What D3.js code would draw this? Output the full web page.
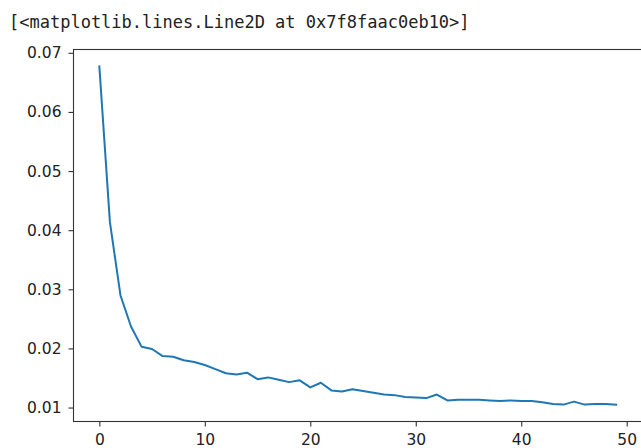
<!DOCTYPE html>
<meta charset="UTF-8">
<html>
<head>
<style>
html, body {
  margin:0;
  padding:0;
  background:white;
}
.out {
  font-family: "DejaVu Sans Mono", monospace;
  font-size:17px;
  fill:#222;
}
</style>
</head>
<body>
<svg width="641" height="448"></svg>
<script src="https://d3js.org/d3.v7.min.js"></script>
<script>
// loss per epoch
var epochs = d3.range(50);
var loss = [
  0.0677, 0.0414, 0.0290, 0.0237, 0.0203, 0.0199, 0.0187, 0.0186, 0.0180, 0.0177,
  0.0172, 0.0165, 0.0158, 0.0156, 0.0159, 0.0148, 0.0151, 0.0147, 0.0143, 0.0146,
  0.0134, 0.0142, 0.0129, 0.0127, 0.0131, 0.0128, 0.0125, 0.0122, 0.0121, 0.0118,
  0.0117, 0.0116, 0.0122, 0.0112, 0.0113, 0.0113, 0.0113, 0.0112, 0.0111, 0.0112,
  0.0111, 0.0111, 0.0109, 0.0106, 0.0105, 0.0110, 0.0105, 0.0106, 0.0106, 0.0105
];
var xTicks = [0, 10, 20, 30, 40, 50];
var yTicks = [0.01, 0.02, 0.03, 0.04, 0.05, 0.06, 0.07];
var outText = "[<matplotlib.lines.Line2D at 0x7f8faac0eb10>]";

function draw() {
  var svg = d3.select("svg");

  // axes box (right spine falls just outside the picture)
  var box = {left: 73.5, right: 642, top: 49.5, bottom: 421.5};

  // matplotlib style 5% margins
  var xSpan = d3.max(epochs) - d3.min(epochs);
  var ySpan = d3.max(loss) - d3.min(loss);
  var x = d3.scaleLinear()
      .domain([d3.min(epochs) - xSpan * 0.05, d3.max(epochs) + xSpan * 0.05])
      .range([box.left, box.right]);
  var y = d3.scaleLinear()
      .domain([d3.min(loss) - ySpan * 0.05, d3.max(loss) + ySpan * 0.05])
      .range([box.bottom, box.top]);

  svg.append("text")
      .attr("class", "out")
      .attr("x", 9)
      .attr("y", 28)
      .text(outText);

  var line = d3.line()
      .x(function(d, i) { return x(epochs[i]); })
      .y(function(d) { return y(d); });

  svg.append("path")
      .datum(loss)
      .attr("fill", "none")
      .attr("stroke", "#1f77b4")
      .attr("stroke-width", 2)
      .attr("stroke-linejoin", "round")
      .attr("stroke-linecap", "square")
      .attr("d", line);

  // frame
  svg.append("rect")
      .attr("x", box.left)
      .attr("y", box.top)
      .attr("width", box.right - box.left)
      .attr("height", box.bottom - box.top)
      .attr("fill", "none")
      .attr("stroke", "#333")
      .attr("stroke-width", 1.1);

  var xAxis = svg.append("g")
      .attr("transform", "translate(0," + box.bottom + ")")
      .call(d3.axisBottom(x).tickValues(xTicks).tickSize(5).tickPadding(7.5).tickFormat(d3.format("d")));

  var yAxis = svg.append("g")
      .attr("transform", "translate(" + box.left + ",0)")
      .call(d3.axisLeft(y).tickValues(yTicks).tickSize(5).tickPadding(7).tickFormat(d3.format(".2f")));

  [xAxis, yAxis].forEach(function(ax) {
    ax.select(".domain").remove();
    ax.attr("font-family", "'DejaVu Sans', sans-serif").attr("font-size", 15.5);
    ax.selectAll(".tick line").attr("stroke", "#333").attr("stroke-width", 1.1);
    ax.selectAll(".tick text").attr("fill", "#222");
  });
}

draw();
</script>
</body>
</html>
